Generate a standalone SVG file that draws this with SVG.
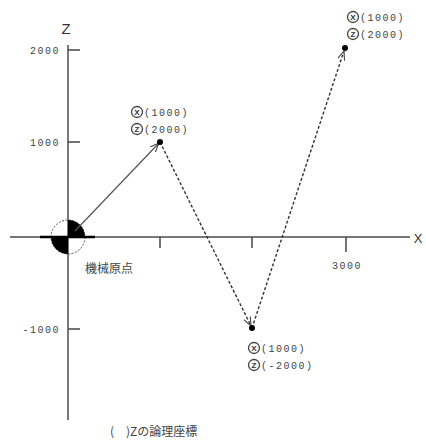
<svg xmlns="http://www.w3.org/2000/svg" width="426" height="441" viewBox="0 0 426 441">
<style>
.ax{stroke:#777;stroke-width:2;fill:none}
.tk{stroke:#444;stroke-width:1.5}
.t{font-family:"Liberation Mono","DejaVu Sans Mono",monospace;font-size:10px;fill:#444;letter-spacing:1.5px}
.cc{fill:none;stroke:#444;stroke-width:1.3}
.cl{font-family:"Liberation Sans",sans-serif;font-size:8px;font-weight:bold;fill:#333;text-anchor:middle}
.j{font-family:"Noto Sans CJK JP",sans-serif;font-size:12px;fill:#444}
.path{stroke:#333;stroke-width:1.4;fill:none;stroke-dasharray:3,2}
</style>
<defs>
<marker id="ar" viewBox="0 0 10 10" refX="10" refY="5" markerWidth="9" markerHeight="9" orient="auto" markerUnits="userSpaceOnUse">
<path d="M0,1 L10,5 L0,9" fill="none" stroke="#444" stroke-width="1.2"/>
</marker>
</defs>
<g id="axes">
<line class="ax" x1="68" y1="45" x2="68" y2="420"/>
<line class="ax" x1="10" y1="237" x2="410" y2="237"/>
<text x="66" y="34" font-family="Liberation Sans,sans-serif" font-size="15" fill="#333" text-anchor="middle">Z</text>
<text x="418" y="243" font-family="Liberation Sans,sans-serif" font-size="13" fill="#333" text-anchor="middle">X</text>
<line class="tk" x1="68" y1="50" x2="80" y2="50"/>
<line class="tk" x1="68" y1="142" x2="80" y2="142"/>
<line class="tk" x1="68" y1="329" x2="80" y2="329"/>
<line class="tk" x1="160" y1="237" x2="160" y2="248"/>
<line class="tk" x1="252" y1="237" x2="252" y2="248"/>
<line class="tk" x1="346" y1="237" x2="346" y2="252"/>
<text class="t" x="60" y="54" text-anchor="end">2000</text>
<text class="t" x="60" y="146" text-anchor="end">1000</text>
<text class="t" x="60" y="333" text-anchor="end">-1000</text>
<text class="t" x="347" y="269" text-anchor="middle">3000</text>
</g>
<g id="origin">
<circle cx="68" cy="237" r="17" fill="none" stroke="#555" stroke-width="1" stroke-dasharray="2,1.5"/>
<path d="M68,237 L68,220 A17,17 0 0 1 85,237 Z" fill="#000"/>
<path d="M68,237 L68,254 A17,17 0 0 1 51,237 Z" fill="#000"/>
<line x1="40" y1="237" x2="95" y2="237" stroke="#000" stroke-width="2.5"/>
<text class="j" x="85" y="273">機械原点</text>
</g>
<g id="connectors">
<line x1="75" y1="231" x2="159" y2="143" stroke="#555" stroke-width="1.2" marker-end="url(#ar)"/>
<line class="path" x1="160" y1="142" x2="251" y2="326" marker-end="url(#ar)"/>
<line class="path" x1="252" y1="328" x2="344" y2="51" marker-end="url(#ar)"/>
</g>
<g id="p1">
<circle cx="160" cy="142" r="3" fill="#000"/>
<circle class="cc" cx="137" cy="112" r="5.5"/><text class="cl" x="137" y="115">X</text>
<text class="t" x="144" y="116">(1000)</text>
<circle class="cc" cx="137" cy="129" r="5.5"/><text class="cl" x="137" y="132">Z</text>
<text class="t" x="144" y="133">(2000)</text>
</g>
<g id="p2">
<circle cx="252" cy="328" r="3" fill="#000"/>
<circle class="cc" cx="254" cy="348" r="5.5"/><text class="cl" x="254" y="351">X</text>
<text class="t" x="261" y="352">(1000)</text>
<circle class="cc" cx="254" cy="365" r="5.5"/><text class="cl" x="254" y="368">Z</text>
<text class="t" x="261" y="369">(-2000)</text>
</g>
<g id="p3">
<circle cx="345" cy="48" r="3" fill="#000"/>
<circle class="cc" cx="353" cy="17" r="5.5"/><text class="cl" x="353" y="20">X</text>
<text class="t" x="360" y="21">(1000)</text>
<circle class="cc" cx="353" cy="34" r="5.5"/><text class="cl" x="353" y="37">Z</text>
<text class="t" x="360" y="38">(2000)</text>
</g>
<text class="j" x="110" y="436">(　)Zの論理座標</text>
</svg>
